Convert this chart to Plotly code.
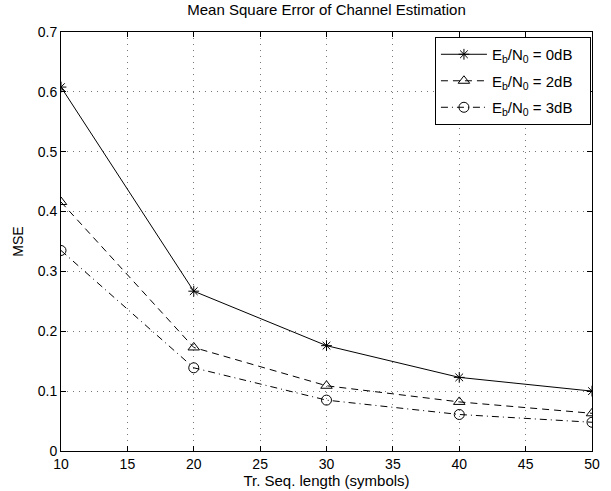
import plotly.graph_objects as go

x_len = [10, 20, 30, 40, 50]
mse_0db = [0.608, 0.267, 0.176, 0.123, 0.100]
mse_2db = [0.416, 0.173, 0.109, 0.082, 0.063]
mse_3db = [0.335, 0.139, 0.085, 0.061, 0.048]
x_ticks = [10, 15, 20, 25, 30, 35, 40, 45, 50]
y_ticks = [0, 0.1, 0.2, 0.3, 0.4, 0.5, 0.6, 0.7]
y_tick_text = ["0", "0.1", "0.2", "0.3", "0.4", "0.5", "0.6", "0.7"]
series_names = ["E<sub>b</sub>/N<sub>0</sub> = 0dB",
                "E<sub>b</sub>/N<sub>0</sub> = 2dB",
                "E<sub>b</sub>/N<sub>0</sub> = 3dB"]

font = "Liberation Sans, Arial, Helvetica, sans-serif"
pad = "&nbsp;&nbsp;&nbsp;"

fig = go.Figure()
fig.add_trace(go.Scatter(
    x=x_len, y=mse_0db, mode="lines+markers", legendgroup="a",
    name=series_names[0] + pad,
    line=dict(color="black", width=1, dash="solid"),
    marker=dict(symbol="asterisk-open", size=9, color="black", line=dict(color="black", width=1)),
))
fig.add_trace(go.Scatter(
    x=x_len, y=mse_2db, mode="lines+markers", legendgroup="b",
    name=series_names[1] + pad,
    line=dict(color="black", width=1, dash="7px,5px"),
    marker=dict(symbol="triangle-up-open", size=10, color="black", line=dict(color="black", width=1)),
))
fig.add_trace(go.Scatter(
    x=x_len, y=mse_3db, mode="lines+markers", legendgroup="c",
    name=series_names[2] + pad,
    line=dict(color="black", width=1, dash="7px,4px,1px,4px"),
    marker=dict(symbol="circle-open", size=10, color="black", line=dict(color="black", width=1)),
))

axis_common = dict(
    showline=True, linecolor="black", linewidth=1, mirror="ticks",
    ticks="inside", ticklen=5, tickcolor="black", automargin=False,
    showgrid=True, gridcolor="#777777", gridwidth=1, griddash="1px,5px",
    zeroline=False, tickfont=dict(family=font, size=14, color="black"),
)

fig.update_layout(
    width=611, height=491,
    margin=dict(l=61, r=19, t=32, b=40),
    paper_bgcolor="white", plot_bgcolor="white",
    font=dict(family=font, size=14, color="black"),
    title=dict(text="Mean Square Error of Channel Estimation", x=0.5, xref="paper", xanchor="center",
               y=1, yref="container", yanchor="top", pad=dict(t=4, b=0),
               font=dict(family=font, size=15, color="black")),
    xaxis=dict(range=[10, 50], tickvals=x_ticks,
               title=dict(text="Tr. Seq. length (symbols)", standoff=0,
                          font=dict(family=font, size=15, color="black")),
               **axis_common),
    yaxis=dict(range=[0, 0.7], tickvals=y_ticks, ticktext=y_tick_text,
               title=dict(text="MSE", standoff=10,
                          font=dict(family=font, size=14, color="black")),
               **axis_common),
    legend=dict(x=0.998, y=0.988, xanchor="right", yanchor="top",
                bgcolor="white", bordercolor="black", borderwidth=1,
                font=dict(family=font, size=15, color="black"),
                tracegroupgap=4, itemwidth=46),
    showlegend=True,
)

# remove the page's default 8px body margin so the figure fills the window exactly
fig.write_html("out.html",
               config={"displayModeBar": False},
               post_script="document.body.style.margin='0';document.body.style.overflow='hidden';")
